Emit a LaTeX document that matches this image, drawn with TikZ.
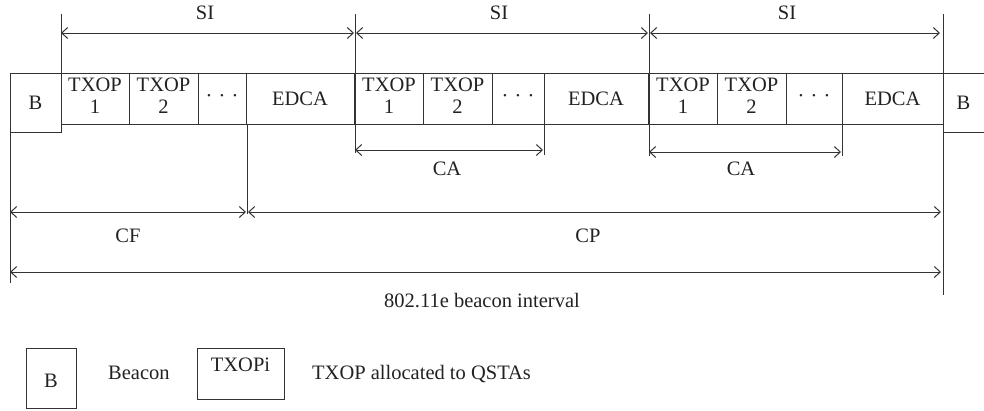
\documentclass[tikz,border=0pt]{standalone}
\usepackage{fontspec}
\setmainfont{Liberation Serif}
\usetikzlibrary{arrows.meta}
\definecolor{lc}{HTML}{333333}
\definecolor{tc}{HTML}{222222}
\newcommand{\txopcell}[1]{\raisebox{-2pt}{\begin{tabular}{@{}c@{}}TXOP\\#1\end{tabular}}}
\begin{document}
\begin{tikzpicture}[x=1pt,y=-1pt,
  every node/.style={font=\fontsize{20.5}{22}\selectfont, text=tc},
  cell/.style={draw=lc, line width=1pt, inner sep=0pt, outer sep=0pt, anchor=north west, minimum height=51pt, align=center},
  bcell/.style={cell, minimum height=59pt},
  dim/.style={draw=lc, line width=1pt, {Straight Barb[length=6pt,width=11pt]}-{Straight Barb[length=6pt,width=11pt]}},
  tick/.style={draw=lc, line width=1pt},
  lab/.style={anchor=base, inner sep=0pt}
]
\useasboundingbox (0,0) rectangle (984,410);

% beacon boxes
\node[bcell, minimum width=51pt] (b1) at (10,73) {B};
\node[bcell, minimum width=41pt] (b2) at (943,73) {B};

% SI 1
\node[cell, minimum width=68pt] (a1) at (61,73) {\txopcell{1}};
\node[cell, minimum width=69pt] (a2) at (129,73) {\txopcell{2}};
\node[cell, minimum width=48pt] (a3) at (198,73) {·\hspace{0.3em}·\hspace{0.3em}·};
\node[cell, minimum width=108pt] (a4) at (246,73) {EDCA};
% SI 2
\node[cell, minimum width=68pt] (c1) at (355,73) {\txopcell{1}};
\node[cell, minimum width=69pt] (c2) at (423,73) {\txopcell{2}};
\node[cell, minimum width=52pt] (c3) at (492,73) {·\hspace{0.3em}·\hspace{0.3em}·};
\node[cell, minimum width=104pt] (c4) at (544,73) {EDCA};
% SI 3
\node[cell, minimum width=68pt] (d1) at (649,73) {\txopcell{1}};
\node[cell, minimum width=69pt] (d2) at (717,73) {\txopcell{2}};
\node[cell, minimum width=56pt] (d3) at (786,73) {·\hspace{0.3em}·\hspace{0.3em}·};
\node[cell, minimum width=101pt] (d4) at (842,73) {EDCA};

% tick coordinates
\coordinate (t1) at (61,14);
\coordinate (t2) at (355,14);
\coordinate (t3) at (649,14);
\coordinate (t4) at (943,14);
\coordinate (l0) at (10,283);
\coordinate (r0) at (943,295);
\coordinate (cfb) at (247,214);
\coordinate (ca1b) at (355,153);
\coordinate (ca1e) at (544,155);
\coordinate (ca2b) at (649,156);
\coordinate (ca2e) at (842,156);

\draw[tick] (t1) -- (a1.north west);
\draw[tick] (t2) -- (c1.north west);
\draw[tick] (t3) -- (d1.north west);
\draw[tick] (t4) -- (b2.north west);
\draw[tick] (b1.south west) -- (l0);
\draw[tick] (b2.south west) -- (r0);
\draw[tick] (a4.south west) ++(1,0) -- (cfb);
\draw[tick] (c1.south west) -- (ca1b);
\draw[tick] (c4.south west) -- (ca1e);
\draw[tick] (d1.south west) -- (ca2b);
\draw[tick] (d4.south west) -- (ca2e);

% arrows
\coordinate (s1a) at (61,33); \coordinate (s1b) at (354,33);
\coordinate (s2a) at (356,33); \coordinate (s2b) at (648,33);
\coordinate (s3a) at (650,33); \coordinate (s3b) at (940,33);
\coordinate (ca1a) at (355,150); \coordinate (ca1z) at (543,150);
\coordinate (ca2a) at (649,152); \coordinate (ca2z) at (841,152);
\coordinate (cfa) at (10,212); \coordinate (cfz) at (246,212);
\coordinate (cpa) at (248,212); \coordinate (cpz) at (941,212);
\coordinate (bia) at (10,272); \coordinate (biz) at (941,272);

\draw[dim] (s1a) -- (s1b);
\draw[dim] (s2a) -- (s2b);
\draw[dim] (s3a) -- (s3b);
\draw[dim] (ca1a) -- (ca1z);
\draw[dim] (ca2a) -- (ca2z);
\draw[dim] (cfa) -- (cfz);
\draw[dim] (cpa) -- (cpz);
\draw[dim] (bia) -- (biz);

% labels
\node[lab] (si1) at (205,19) {SI};
\node[lab] (si2) at (499,19) {SI};
\node[lab] (si3) at (787,19) {SI};
\node[lab] (ca1) at (447,175) {CA};
\node[lab] (ca2) at (741,175) {CA};
\node[lab] (cf) at (128,242) {CF};
\node[lab] (cp) at (588,242) {CP};
\node[lab] (bi) at (482,307) {802.11e beacon interval};

% legend
\node[cell, minimum width=50pt, minimum height=60pt] (lb) at (26,348) {};
\node[lab] (lbt) at (51,387) {B};
\node[lab, anchor=base west] (lbl) at (108,379) {Beacon};
\node[cell, minimum width=87pt, minimum height=51pt] (lt) at (197,348) {};
\node[lab] (ltt) at (240.5,371) {TXOPi};
\node[lab, anchor=base west] (ltl) at (312,379) {TXOP allocated to QSTAs};
\end{tikzpicture}
\end{document}
